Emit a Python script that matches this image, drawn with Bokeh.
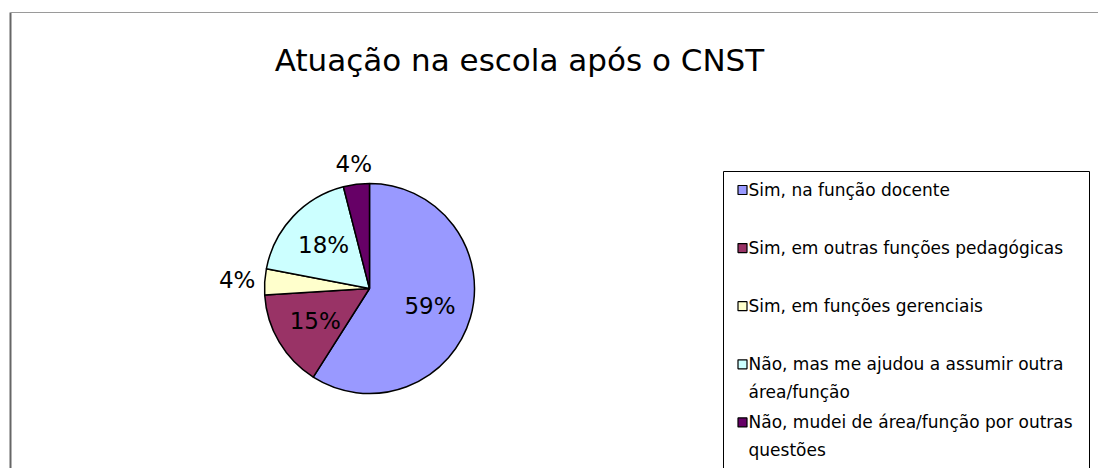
import math
from bokeh.plotting import figure
from bokeh.models import Range1d, Label, ColumnDataSource
from bokeh.core.properties import value
from bokeh.embed import file_html
from bokeh.resources import INLINE

# ---------------- data ----------------
title_text = "Atuação na escola após o CNST"
categories = [
    "Sim, na função docente",
    "Sim, em outras funções pedagógicas",
    "Sim, em funções gerenciais",
    "Não, mas me ajudou  a assumir outra\nárea/função",
    "Não, mudei de área/função por outras\nquestões",
]
percent = [59, 15, 4, 18, 4]
colors = ["#9999FF", "#993366", "#FFFFCC", "#CCFFFF", "#660066"]

# ---------------- layout ----------------
W, H = 1098, 468
FONT = "DejaVu Sans"


def X(page_x):
    return page_x


def Y(page_y):
    return H - page_y


p = figure(width=W, height=H, output_backend="svg", toolbar_location=None,
           x_range=Range1d(0, W), y_range=Range1d(0, H),
           x_axis_location=None, y_axis_location=None, min_border=0)
p.outline_line_color = None
p.xgrid.visible = False
p.ygrid.visible = False
p.background_fill_color = "white"
p.border_fill_color = "white"

# chart-area frame (left and top edges visible)
p.segment(x0=[X(10)], y0=[Y(12)], x1=[X(10)], y1=[-5], line_color="#666666", line_width=2)
p.segment(x0=[X(10)], y0=[Y(12)], x1=[W + 5], y1=[Y(12)], line_color="#9A9A9A", line_width=1)

# title
p.add_layout(Label(x=X(519), y=Y(59), text=title_text, text_align="center",
                   text_baseline="alphabetic", text_font=FONT,
                   text_font_size="31px", text_color="black"))

# ---------------- pie ----------------
cx, cy, r = X(369), Y(288), 105
total = float(sum(percent))
starts, ends, mids = [], [], []
cum = 0.0
for v in percent:
    f0 = cum / total
    cum += v
    f1 = cum / total
    starts.append(math.pi / 2 - 2 * math.pi * f0)
    ends.append(math.pi / 2 - 2 * math.pi * f1)
    mids.append(math.pi / 2 - 2 * math.pi * (f0 + f1) / 2)

src = ColumnDataSource(dict(x=[cx] * len(percent), y=[cy] * len(percent),
                            start=starts, end=ends, color=colors))
p.wedge(x="x", y="y", radius=r, start_angle="start", end_angle="end",
        direction="clock", fill_color="color", line_color="black",
        line_width=1.5, source=src)

# data labels
lx, ly, lt = [], [], []
half_w, half_h = 18, 9
for v, a in zip(percent, mids):
    dx, dy = math.cos(a), math.sin(a)
    pct = round(v / total * 100)
    if pct < 10:
        d = r + 9 + abs(dx) * half_w + abs(dy) * half_h
    else:
        d = 0.6 * r
    lx.append(cx + d * dx)
    ly.append(cy + d * dy)
    lt.append(f"{pct}%")
p.text(x=lx, y=ly, text=lt, text_align="center", text_baseline="middle",
       text_font=value(FONT), text_font_size="23px", text_color="black")

# ---------------- legend ----------------
p.quad(left=[X(723)], right=[X(1089)], top=[Y(171)], bottom=[-10],
       fill_color="white", line_color="black", line_width=1)

first_y = 189.5
step = 58.1
line_h = 28
mk_x, mk_y, tx, ty, tt = [], [], [], [], []
for i, lab in enumerate(categories):
    y0 = first_y + i * step
    mk_x.append(X(742))
    mk_y.append(Y(y0))
    for k, line in enumerate(lab.split("\n")):
        tx.append(X(748))
        ty.append(Y(y0 + k * line_h))
        tt.append(line)
p.scatter(x=mk_x, y=mk_y, marker="square", size=9, fill_color=colors,
          line_color="black", line_width=1.2)
p.text(x=tx, y=ty, text=tt, text_align="left", text_baseline="middle",
       text_font=value(FONT), text_font_size="17px", text_color="black")

open("out.html", "w").write(file_html(p, INLINE))
